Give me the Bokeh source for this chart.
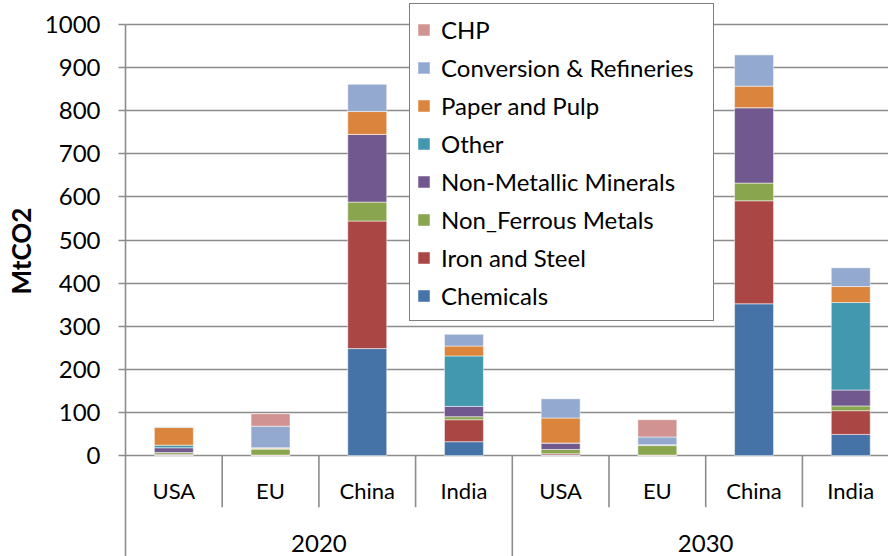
import numpy as np
from bokeh.plotting import figure
from bokeh.models import Range1d, FixedTicker, Legend, LegendItem, ColumnDataSource, Title
from bokeh.core.properties import value
from bokeh.embed import file_html
from bokeh.resources import INLINE

years = ["2020", "2030"]
regions = ["USA", "EU", "China", "India"]
sectors = ["Chemicals", "Iron and Steel", "Non_Ferrous Metals", "Non-Metallic Minerals",
           "Other", "Paper and Pulp", "Conversion & Refineries", "CHP"]
colors = ["#4572A7", "#AA4643", "#89A54E", "#71588F", "#4198AF", "#DB843D", "#93A9CF", "#D19392"]

# order of bars: 2020 USA, EU, China, India, 2030 USA, EU, China, India
chemicals   = [1, 0, 248, 32, 1, 0, 352, 49]
iron_steel  = [2, 1, 296, 51, 3, 1, 239, 55]
non_ferrous = [4, 14, 44, 7, 10, 22, 41, 11]
non_metal   = [11, 1, 157, 24, 15, 2, 175, 37]
other       = [6, 0, 0, 117, 0, 0, 0, 203]
paper_pulp  = [41, 2, 53, 23, 58, 0, 50, 37]
conversion  = [2, 50, 64, 28, 45, 18, 73, 44]
chp         = [0, 29, 0, 0, 0, 40, 0, 0]
y_ticks = [0, 100, 200, 300, 400, 500, 600, 700, 800, 900, 1000]
y_title = "MtCO2"

series = [chemicals, iron_steel, non_ferrous, non_metal, other, paper_pulp, conversion, chp]
n = len(years) * len(regions)
centers = np.arange(n) + 0.5
data = {"x": centers}
for name, vals in zip(sectors, series):
    data[name] = vals
source = ColumnDataSource(data)

px_per_unit = 0.431
y_top = 455 / px_per_unit
y_bot = -(556 - 455) / px_per_unit
font = "Lato"
grey = "#8c8c8c"

p = figure(width=888, height=556, output_backend="svg", toolbar_location=None,
           x_range=Range1d(0, 763 / 96.7), y_range=Range1d(y_bot, y_top),
           min_border_left=125, min_border_right=0, min_border_top=0, min_border_bottom=0)
p.outline_line_color = None
p.xaxis.visible = False
p.xgrid.visible = False

renderers = p.vbar_stack(sectors, x="x", width=0.403, source=source, color=colors,
                         line_color="white", line_alpha=0.5, line_width=1)

yaxis = p.yaxis[0]
yaxis.ticker = FixedTicker(ticks=y_ticks)
yaxis.bounds = (y_bot, 1000)
yaxis.axis_line_color = grey
yaxis.axis_line_width = 1.6
yaxis.major_tick_line_color = grey
yaxis.major_tick_line_width = 1.6
yaxis.major_tick_out = 7
yaxis.major_tick_in = 0
yaxis.minor_tick_line_color = None
yaxis.major_label_standoff = 18
yaxis.major_label_text_font = font
yaxis.major_label_text_font_size = "24px"
yaxis.major_label_text_color = "black"

# y-axis title, placed as a left-side title so it can sit beside the 0-1000 span
ytitle = Title(text=y_title, align="left", offset=556 - 294, standoff=7,
               vertical_align="middle", text_font=font, text_font_size="26px",
               text_font_style="bold", text_color="black")
p.add_layout(ytitle, "left")

p.ygrid.grid_line_color = grey
p.ygrid.grid_line_width = 1.6

# category separators below the zero line
k = len(regions)
sub_b = [i for i in range(1, n) if i % k != 0]
grp_b = [i for i in range(1, n) if i % k == 0]
sub_len = -(506.7 - 455) / px_per_unit
p.segment(x0=sub_b, y0=[0] * len(sub_b), x1=sub_b, y1=[sub_len] * len(sub_b),
          line_color=grey, line_width=1.6)
p.segment(x0=grp_b, y0=[0] * len(grp_b), x1=grp_b, y1=[y_bot] * len(grp_b),
          line_color=grey, line_width=1.6)

sub_labels = regions * len(years)
p.text(x=centers, y=[-(490 - 455) / px_per_unit] * n, text=sub_labels,
       text_align="center", text_baseline="middle", text_font=value(font),
       text_font_size="22px", text_color="black")
grp_x = [k * i + k / 2 for i in range(len(years))]
p.text(x=grp_x, y=[-(543 - 455) / px_per_unit] * len(years), text=years,
       text_align="center", text_baseline="middle", text_font=value(font),
       text_font_size="24px", text_color="black")

items = [LegendItem(label=s, renderers=[r]) for s, r in zip(sectors, renderers)][::-1]
legend = Legend(items=items, location=(284, 235), orientation="vertical")
legend.label_text_font = font
legend.label_text_font_size = "24px"
legend.label_text_color = "black"
legend.glyph_width = 15
legend.glyph_height = 15
legend.label_standoff = 10
legend.label_height = 38
legend.label_width = 266
legend.padding = 6
legend.spacing = 0
legend.margin = 0
legend.border_line_color = "black"
legend.border_line_width = 1.6
legend.background_fill_alpha = 1
p.add_layout(legend, "center")

open("out.html", "w").write(file_html(p, INLINE))
